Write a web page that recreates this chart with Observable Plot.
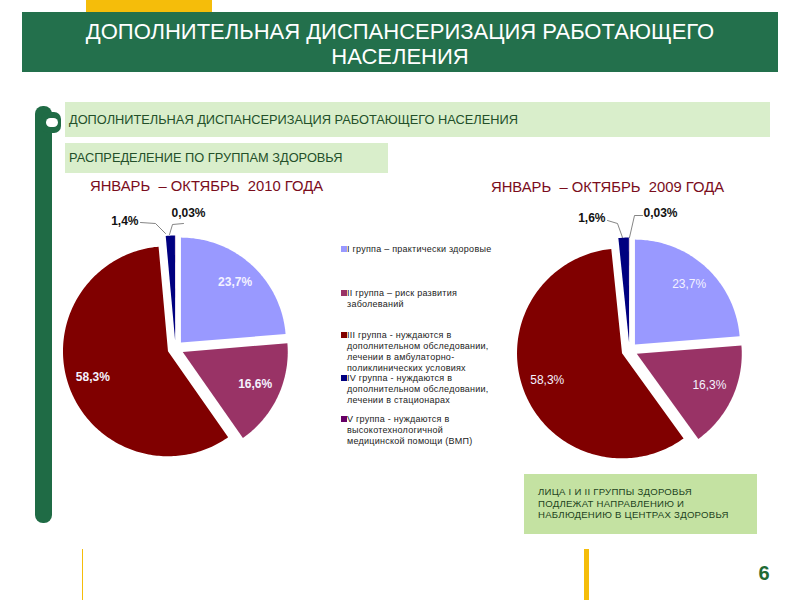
<!DOCTYPE html>
<html><head><meta charset="utf-8">
<script src="https://cdn.jsdelivr.net/npm/d3@7"></script>
<script src="https://cdn.jsdelivr.net/npm/@observablehq/plot@0.6"></script>
<style>
html,body{margin:0;padding:0;}
body{width:800px;height:600px;position:relative;background:#fff;font-family:"Liberation Sans",Arial,sans-serif;overflow:hidden;}
.a{position:absolute;}
#title{left:22px;top:12px;width:756px;height:60px;background:#23704c;color:#fff;font-size:22px;line-height:25px;text-align:center;padding-top:7px;box-sizing:border-box;}
.box{background:#d9eecb;color:#23502a;font-size:12.8px;box-sizing:border-box;padding-left:4px;}
.sub{color:#7a0d1c;font-size:14.8px;white-space:pre;}
.leg{left:341px;font-size:9px;color:#222;line-height:11px;letter-spacing:0.25px;}
.sw{position:absolute;left:0;top:2px;width:6px;height:6px;}
.legt{position:absolute;left:6px;top:0;white-space:pre;}
#note{left:524px;top:474px;width:233px;height:60px;background:#c4e2a2;color:#1d421d;font-size:9.6px;line-height:11.5px;padding:12px 0 0 14px;box-sizing:border-box;letter-spacing:0.25px;}
svg{background:transparent;}
</style></head><body>
<script>
// ---- data ----
const groups = ["I", "II", "III", "IV", "V"];
const legendLabels = [
  "I группа – практически здоровые",
  "II группа – риск развития\nзаболеваний",
  "III группа - нуждаются в\nдополнительном обследовании,\nлечении в амбулаторно-\nполиклинических условиях",
  "IV группа - нуждаются в\nдополнительном обследовании,\nлечении в стационарах",
  "V группа - нуждаются в\nвысокотехнологичной\nмедицинской помощи (ВМП)"
];
const colors = ["#9999ff", "#993366", "#800000", "#000080", "#660066"];
const values2010 = [23.7, 16.6, 58.3, 1.4, 0.03];
const values2009 = [23.7, 16.3, 58.3, 1.6, 0.03];
const labels2010 = ["23,7%", "16,6%", "58,3%", "1,4%", "0,03%"];
const labels2009 = ["23,7%", "16,3%", "58,3%", "1,6%", "0,03%"];
const pageTitle = "ДОПОЛНИТЕЛЬНАЯ ДИСПАНСЕРИЗАЦИЯ РАБОТАЮЩЕГО<br>НАСЕЛЕНИЯ";
const box1Text = "ДОПОЛНИТЕЛЬНАЯ ДИСПАНСЕРИЗАЦИЯ РАБОТАЮЩЕГО НАСЕЛЕНИЯ";
const box2Text = "РАСПРЕДЕЛЕНИЕ ПО ГРУППАМ ЗДОРОВЬЯ";
const title2010 = "ЯНВАРЬ  – ОКТЯБРЬ  2010 ГОДА";
const title2009 = "ЯНВАРЬ  – ОКТЯБРЬ  2009 ГОДА";
const noteLines = ["ЛИЦА I И II ГРУППЫ ЗДОРОВЬЯ", "ПОДЛЕЖАТ НАПРАВЛЕНИЮ И", "НАБЛЮДЕНИЮ В ЦЕНТРАХ ЗДОРОВЬЯ"];
const pageNumber = "6";

// ---- helpers ----
function el(tag, cls, style, html) {
  const e = document.createElement(tag);
  if (cls) e.className = cls;
  if (style) e.setAttribute("style", style);
  if (html != null) e.innerHTML = html;
  document.body.appendChild(e);
  return e;
}

// slide chrome
el("div", "a", "left:86px;top:0;width:126px;height:12px;background:#f5bd0a;");
el("div", "a", "", pageTitle).id = "title";
el("div", "a", "left:35px;top:106px;width:17px;height:417px;background:#1f6b45;border-radius:8px;");
el("div", "a", "left:41px;top:112px;width:20px;height:21px;background:#1f6b45;border-radius:7px;");
el("div", "a", "left:46px;top:118px;width:12px;height:9px;background:#fff;border-radius:5px;");
el("div", "a box", "left:65px;top:102px;width:705px;height:35px;line-height:35px;", box1Text);
el("div", "a box", "left:65px;top:143px;width:323px;height:30px;line-height:30px;", box2Text);
el("div", "a sub", "left:90px;top:178px;", title2010);
el("div", "a sub", "left:491px;top:179px;", title2009);
el("div", "a", "", noteLines.join("<br>")).id = "note";
el("div", "a", "left:82px;top:549px;width:1px;height:51px;background:#f5bd0a;");
el("div", "a", "left:584px;top:549px;width:5px;height:51px;background:#f5bd0a;");
el("div", "a", "left:756px;top:562px;width:16px;text-align:center;font-size:20px;font-weight:bold;color:#1f6b35;", pageNumber);

// legend
const legendTops = [244, 288, 330, 373, 414];
legendLabels.forEach((t, i) => {
  const d = el("div", "a leg", `top:${legendTops[i]}px;`);
  d.innerHTML = `<div class="sw" style="background:${colors[i]}"></div><div class="legt">${t}</div>`;
});

// pies
function pie(values, labels, cfg) {
  const R = 105, EX = 8;
  const arcs = d3.pie().sort(null).value(d => d)(values);
  const poly = [], inner = [];
  arcs.forEach((a, i) => {
    const mid = (a.startAngle + a.endAngle) / 2;
    const ox = EX * Math.sin(mid), oy = -EX * Math.cos(mid);
    poly.push({g: groups[i], x: ox, y: oy});
    const n = Math.max(2, Math.ceil((a.endAngle - a.startAngle) / 0.02));
    for (let k = 0; k <= n; k++) {
      const t = a.startAngle + (a.endAngle - a.startAngle) * k / n;
      poly.push({g: groups[i], x: ox + R * Math.sin(t), y: oy - R * Math.cos(t)});
    }
    if (values[i] > 5) inner.push({x: 88 * Math.sin(mid), y: -88 * Math.cos(mid) - 2, t: labels[i]});
  });
  const outer = [
    {x: cfg.l4[0], y: cfg.l4[1], t: labels[3], a: "end"},
    {x: cfg.l5[0], y: cfg.l5[1], t: labels[4], a: "start"}
  ];
  const leaders = [];
  cfg.lead4.forEach(p => leaders.push({k: 4, x: p[0], y: p[1]}));
  cfg.lead5.forEach(p => leaders.push({k: 5, x: p[0], y: p[1]}));
  const font = "Liberation Sans, Arial";
  const svg = Plot.plot({
    width: 260, height: 290, margin: 0,
    x: {domain: [-130, 130], axis: null},
    y: {domain: [145, -145], axis: null},
    color: {domain: groups, range: colors},
    style: {background: "transparent", overflow: "visible"},
    marks: [
      Plot.line(poly, {x: "x", y: "y", z: "g", fill: "g", stroke: "none"}),
      Plot.line(leaders, {x: "x", y: "y", z: "k", stroke: "#666", strokeWidth: 0.8}),
      Plot.text(inner, {x: "x", y: "y", text: "t", fill: "#f4f2ff", fontSize: 12, fontWeight: cfg.bold ? "bold" : "normal", fontFamily: font}),
      Plot.text(outer.filter(d => d.a === "end"), {x: "x", y: "y", text: "t", fill: "#111", fontSize: 12, textAnchor: "end", fontWeight: "bold", fontFamily: font}),
      Plot.text(outer.filter(d => d.a === "start"), {x: "x", y: "y", text: "t", fill: "#111", fontSize: 12, textAnchor: "start", fontWeight: "bold", fontFamily: font})
    ]
  });
  svg.style.position = "absolute";
  svg.style.left = (cfg.cx - 130) + "px";
  svg.style.top = (cfg.cy - 145) + "px";
  document.body.appendChild(svg);
}

pie(values2010, labels2010, {
  cx: 175, cy: 348, bold: true,
  l4: [-37, -127], l5: [-4, -135],
  lead4: [[-35, -126], [-20, -125], [-10, -115]],
  lead5: [[-6, -114], [-3, -124], [8, -125]]
});
pie(values2009, labels2009, {
  cx: 629, cy: 350, bold: false,
  l4: [-24, -132], l5: [14, -137],
  lead4: [[-22, -130], [-12, -127], [-7, -113]],
  lead5: [[0, -113], [5, -135], [13, -135]]
});
</script>
</body></html>
